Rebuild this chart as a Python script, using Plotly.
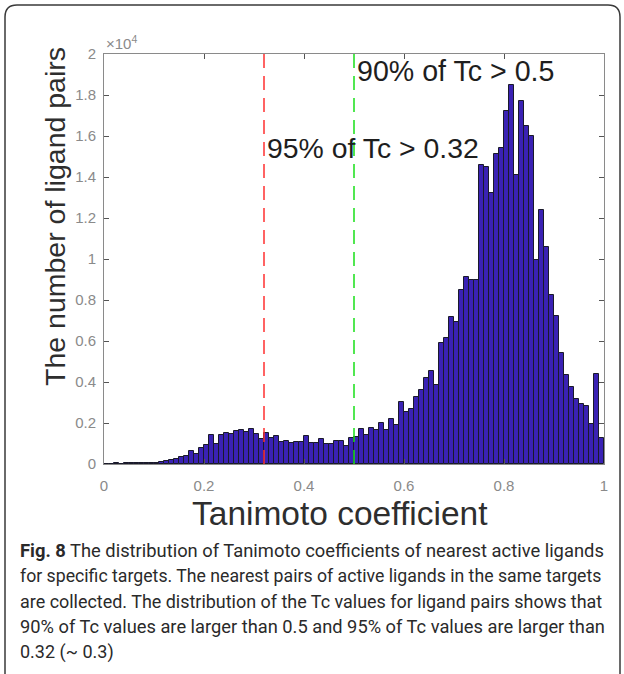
import numpy as np
import plotly.graph_objects as go

# counts per bin (in units of 1e3 ligand pairs), 100 bins from 0 to 1
counts_k = [
    0.02, 0.02, 0.03, 0.02, 0.03, 0.03, 0.03, 0.04, 0.04, 0.05,
    0.07, 0.10, 0.13, 0.18, 0.25, 0.33, 0.40, 0.63, 0.49, 0.78,
    0.91, 1.42, 0.96, 1.40, 1.50, 1.46, 1.60, 1.66, 1.54, 1.72,
    1.45, 1.22, 1.50, 1.25, 1.38, 1.09, 1.12, 1.04, 1.07, 1.07,
    1.37, 1.04, 1.04, 1.22, 0.96, 1.00, 1.10, 1.14, 0.89, 1.25,
    1.33, 1.71, 1.41, 1.77, 1.66, 2.02, 1.66, 2.18, 1.90, 3.04,
    2.55, 2.67, 3.28, 3.60, 4.18, 4.54, 3.85, 5.92, 6.13, 7.15,
    6.94, 8.50, 9.10, 9.00, 9.00, 14.6, 14.5, 13.2, 15.1, 15.4,
    17.2, 18.5, 14.1, 17.7, 16.5, 16.0, 9.95, 12.4, 10.6, 8.24,
    7.22, 5.40, 4.34, 3.74, 3.15, 2.93, 2.85, 1.95, 4.40, 1.25,
]
x_ticks = [0, 0.2, 0.4, 0.6, 0.8, 1]
x_tick_labels = ["0", "0.2", "0.4", "0.6", "0.8", "1"]
y_ticks_e4 = [0, 0.2, 0.4, 0.6, 0.8, 1, 1.2, 1.4, 1.6, 1.8, 2]
y_tick_labels = ["0", "0.2", "0.4", "0.6", "0.8", "1", "1.2", "1.4", "1.6", "1.8", "2"]
threshold_95 = 0.32
threshold_90 = 0.5

counts = np.array(counts_k) * 1000
n_bins = len(counts)
edges = np.linspace(0, 1, n_bins + 1)
centers = (edges[:-1] + edges[1:]) / 2
width = edges[1] - edges[0]

W, H = 624, 674
L, R, T, B = 104, 20, 54, 210
pw, ph = W - L - R, H - T - B
SANS = "Arial, Liberation Sans, sans-serif"


def px(xp):
    return (xp - L) / pw


def py(yp):
    return (H - B - yp) / ph


fig = go.Figure()
fig.add_trace(go.Bar(
    x=centers, y=counts, width=width,
    marker=dict(color="#3a22b4", line=dict(color="#1a1a2a", width=1)),
    hoverinfo="skip",
))

axis_common = dict(
    showgrid=False, zeroline=False, showline=True, mirror="ticks",
    linecolor="#8a8a8a", linewidth=1, ticks="inside", ticklen=5,
    tickcolor="#555555", tickfont=dict(family=SANS, size=15, color="#8a8a8a"),
)
fig.update_xaxes(range=[0, 1], tickvals=x_ticks, ticktext=x_tick_labels,
                 ticklabelstandoff=8, **axis_common)
fig.update_yaxes(range=[0, 20000], tickvals=[v * 1e4 for v in y_ticks_e4],
                 ticktext=y_tick_labels, ticklabelstandoff=4, **axis_common)

# threshold lines
fig.add_shape(type="line", xref="x", yref="paper", x0=threshold_95, x1=threshold_95,
              y0=0, y1=1, line=dict(color="#ff3030", width=1.5, dash="14px,8px"), layer="above")
fig.add_shape(type="line", xref="x", yref="paper", x0=threshold_90, x1=threshold_90,
              y0=0, y1=1, line=dict(color="#18e018", width=1.5, dash="14px,8px"), layer="above")

# outer rounded border
x0b, x1b, y0b, r = 5, 620, 5, 12
path = (f"M {px(x0b)},{py(H + 10)} L {px(x0b)},{py(y0b + r)} "
        f"Q {px(x0b)},{py(y0b)} {px(x0b + r)},{py(y0b)} "
        f"L {px(x1b - r)},{py(y0b)} Q {px(x1b)},{py(y0b)} {px(x1b)},{py(y0b + r)} "
        f"L {px(x1b)},{py(H + 10)}")
fig.add_shape(type="path", xref="paper", yref="paper", path=path,
              line=dict(color="#3a3a3a", width=1.5))

annotations = [
    dict(text="90% of Tc > 0.5", x=threshold_90, xref="x", y=py(71), yref="paper",
         xanchor="left", yanchor="middle", xshift=1,
         font=dict(family=SANS, size=28.6, color="#1e1e1e")),
    dict(text="95% of Tc > 0.32", x=threshold_95, xref="x", y=py(148), yref="paper",
         xanchor="left", yanchor="middle", xshift=1,
         font=dict(family=SANS, size=28.4, color="#1e1e1e")),
    dict(text="×10<sup>4</sup>", x=0, xref="paper", y=1, yref="paper",
         xanchor="left", yanchor="bottom", yshift=0,
         font=dict(family=SANS, size=15, color="#8a8a8a")),
    dict(text="The number of ligand pairs", x=px(55), y=py(217), xref="paper", yref="paper",
         textangle=-90, xanchor="center", yanchor="middle",
         font=dict(family=SANS, size=28.5, color="#2e2e2e")),
    dict(text="Tanimoto coefficient", x=px(340), y=py(513), xref="paper", yref="paper",
         xanchor="center", yanchor="middle",
         font=dict(family=SANS, size=33.5, color="#2e2e2e")),
]

caption_lines = [
    "<b>Fig. 8</b> The distribution of Tanimoto coefficients of nearest active ligands",
    "for specific targets. The nearest pairs of active ligands in the same targets",
    "are collected. The distribution of the Tc values for ligand pairs shows that",
    "90% of Tc values are larger than 0.5 and 95% of Tc values are larger than",
    "0.32 (~ 0.3)",
]
# per-line sizes emulate the justified caption block
caption_sizes = [18.35, 17.7, 17.95, 18.3, 18.0]
for i, (line, sz) in enumerate(zip(caption_lines, caption_sizes)):
    annotations.append(dict(
        text=line, x=px(18), y=py(550 + i * 25.5), xref="paper", yref="paper",
        xanchor="left", yanchor="middle", showarrow=False,
        font=dict(family="Roboto", size=sz, color="#2a2a2a"),
    ))
for a in annotations:
    a.setdefault("showarrow", False)

fig.update_layout(
    width=W, height=H, margin=dict(l=L, r=R, t=T, b=B, autoexpand=False),
    paper_bgcolor="white", plot_bgcolor="white", bargap=0, showlegend=False,
    annotations=annotations,
)
fig.write_html("out.html")
